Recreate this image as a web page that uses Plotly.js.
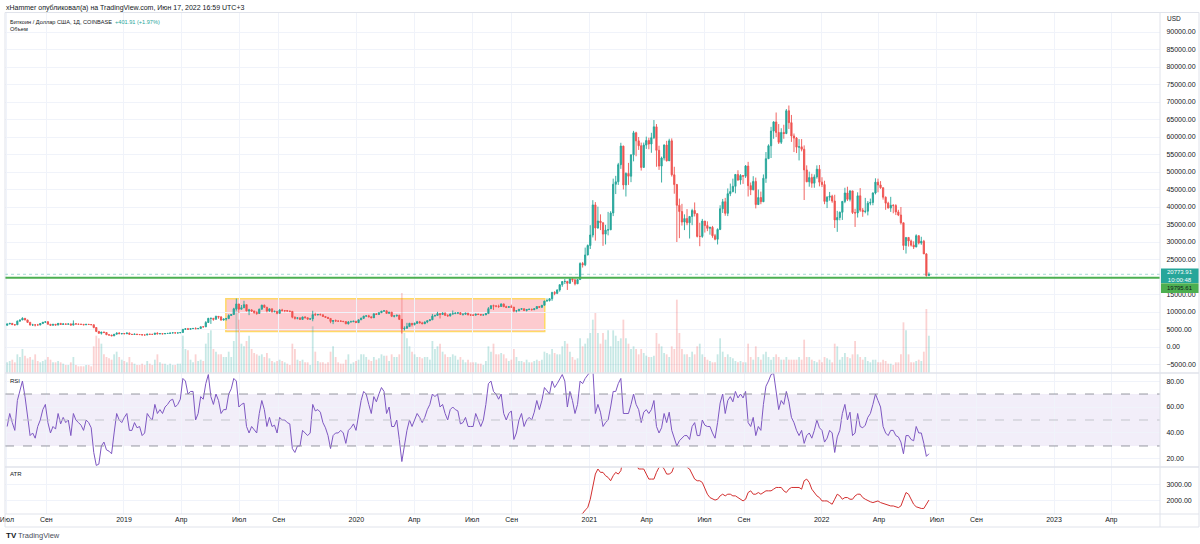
<!DOCTYPE html>
<html><head><meta charset="utf-8">
<script src="https://cdn.plot.ly/plotly-3.0.1.min.js"></script>
<style>html,body{margin:0;padding:0;background:#fff;}#chart{width:1200px;height:544px;}</style>
</head><body><div id="chart"></div>
<script>
// ---------- DATA (4-day bars, last bar = 2022-06-17) ----------
const lastBarDate = '2022-06-17';
const barDays = 4;
const firstOpen = 6200;
const closes = [
 6600,6750,6380,6350,7380,7720,8200,7730, 7030,6280,6320,6310,6270,6700,7080,7190,
 6500,6200,6480,6260,6750,6430,6600,6500, 6600,6250,6650,6540,6500,6470,6330,
 6480,6420,6360,5570,4450,3900,4260,4140, 3500,3420,3190,3650,3970,3800,3860,3780,
 4000,3630,3580,3700,3560,3550,3440, 3420,3670,3620,3600,3960,3740,3820,
 3730,3860,3880,4000,4060,4000,4030,4130, 5050,5200,5070,5240,5300,5200,5280,5780,
 5760,7000,8200,8200,7900,8750,8550, 7700,7980,8150,8990,9280,10900,12300,10800,
 11200,12100,10300,10600,10300,9880,9580,10800, 11950,11350,10300,10900,10100,10170,9600,
 10580,10400,10400,10270,10180,8530,8200,8330, 7880,8580,8350,7950,8030,9250,9150,9300,
 9200,8720,8470,8160,7300,7550,7420, 7400,7350,7250,6620,7150,7200,7380,6960,
 7770,8180,8830,8900,8630,8350,9500,9290, 9800,10250,10350,9600,9950,8780,8900,
 9080,7900,5180,5330,5830,6760,6420,6740, 7200,6880,6640,7130,7500,7780,8830,
 9020,9540,9310,9670,9050,8900,9420,9520, 9670,9780,9330,9380,9680,9170,9140,
 9090,9420,9300,9130,9170,9550,10950,11800, 11700,11680,11570,12300,11520,11330,11520,11400,
 10280,10350,10800,10930,10420,10720,10780, 10670,10930,11550,11330,11920,13120,13280,13800,
 15600,15330,16300,17800,18700,18730,18200,19450, 19200,18050,19270,23850,23480,26300,29000,
 32000,40600,34000,36000,35500,32250,33400,33500, 38300,46500,47200,52100,57400,46300,49600,
 48800,54900,61200,58900,57500,51300,57700,59000, 58000,59800,62900,56200,51700,54000,57700,
 53200,58900,49200,46400,40500,38700,35700,36700, 35500,37300,39000,38100,31600,31600,36000,34700,
 33900,34200,31800,30800,33600,39500,41500, 38200,43800,44400,45900,49300,47700,49000,48800,
 51700,46100,44900,47300,40700,42700,41500,48200, 53800,57500,61700,64300,61300,58500,61300,
 61000,67500,64100,60300,59700,57100,57200,56500, 50600,47200,48400,46800,48600,50800,47100,46400,
 41600,42800,43100,41700,36300,37000,38500, 41600,44000,42200,44600,38400,38300,43200,
 39100,38700,38800,41100,41300,44000,47100,46300, 45500,42800,41100,39700,40500,40400,38600,37700,
 35500,29000,31300,30300,29100,28600,31800, 29700,30200,26600,20400,20773.91
];
const highs = [
 6680,6780,6800,6400,7550,7750,8500,8280, 7760,7170,6620,6500,6600,6750,7100,7300,
 7400,6500,6520,6590,6800,6800,6780,6650, 6650,6700,7600,6700,6600,6530,6500,
 6500,6580,6450,6400,5650,4600,4300,4400, 4100,3550,3460,3680,4150,4250,3900,3950,
 4100,4100,3700,3760,3700,3620,3550, 3500,3730,3690,3650,4000,4200,3880,
 3880,3920,3950,4050,4070,4080,4060,4150, 5100,5350,5450,5280,5350,5620,5450,5800,
 5900,7400,8300,8300,8200,8950,8800, 8850,8100,8200,9350,9300,11200,13850,12300,
 12000,13200,12100,10900,10800,10250,10200,10950, 12050,12100,11450,10950,10950,10400,10280,
 10800,10900,10500,10450,10300,10100,8700,8350, 8400,8650,8800,8380,8300,10350,9800,9400,
 9550,9120,8850,8550,8200,7650,7870, 7500,7650,7380,7300,7400,7520,7450,7400,
 7800,8450,8880,8950,9200,8650,9550,9600, 9850,10300,10500,10200,9960,9980,8950,
 9180,9200,7970,5930,6900,6900,6850,7000, 7450,7450,7200,7300,7550,7800,9450,
 9200,10050,9570,9900,9880,9320,9600,10430, 9880,9800,9950,9580,9700,9700,9220,
 9300,9430,9450,9340,9250,9650,11400,11850, 12100,11900,12100,12450,12380,11800,11600,12080,
 11450,10500,10850,11100,11000,10800,10950, 10950,10950,11700,11720,12000,13220,13850,13900,
 15750,15950,16450,17850,18800,19450,18900,19900, 19650,19300,19400,24200,24300,28400,29300,
 34800,41950,41400,40100,37900,35600,34900,38600, 38800,48100,48900,52600,58350,57500,49900,
 52600,55000,61750,61500,60000,58400,58400,60100, 59800,61200,64850,63700,57500,54400,57900,
 58900,59500,59600,51500,46600,42400,40900,37900, 39400,37300,39500,41300,38200,35500,36600,36000,
 35900,34300,34600,32300,33900,40500,42300, 42600,45300,46700,48100,49400,50500,49400,49000,
 52000,52900,47000,48800,48400,45000,44400,49300, 55700,57900,62900,64500,67000,63700,62500,
 63500,68000,69000,66300,61000,60000,59400,59400, 57600,51900,50100,49500,49300,51900,52000,48500,
 47500,43100,44300,43500,43500,38900,38700, 41700,45500,45800,44800,44200,39500,44200,
 45400,39700,42600,41700,42400,44200,48200,48100, 47400,45600,43000,41500,42900,40800,40800,39200,
 40000,35500,31300,31400,30700,30200,32200, 31900,31500,30600,26800,21300
];
const lows = [
 6200,6500,6300,6070,6350,7260,7700,7650, 6980,6150,6030,5880,6270,6260,6650,6900,
 6450,6120,6150,6230,6240,6380,6420,6450, 6480,6150,6200,6500,6450,6430,6270,
 6300,6360,6300,5350,4250,3850,3550,3950, 3480,3270,3180,3120,3650,3720,3550,3690,
 3750,3580,3500,3580,3480,3520,3380, 3400,3400,3590,3560,3600,3700,3750,
 3700,3720,3840,3850,3980,3950,3900,4020, 4130,4950,4950,5030,5200,5150,5150,5260,
 5580,5950,6900,6600,7500,7900,8050, 7500,7550,7530,7950,8930,9300,10400,9700,
 10800,11300,10200,9100,10000,9500,9200,9600, 10700,11200,9900,10050,9800,9900,9350,
 9600,10200,9950,10150,9950,8200,7850,7900, 7800,7800,8220,7900,7900,7350,9050,9050,
 9100,8700,8400,8100,6800,6530,7250, 7150,7300,7150,6560,6450,7150,7150,6900,
 6950,7700,8050,8580,8500,8250,8600,9250, 9150,9700,10050,9450,9550,8550,8450,
 8650,7700,3850,4700,5700,5850,5870,6150, 6700,6780,6600,6600,6800,7450,7700,
 8700,9000,8150,9150,8850,8640,8700,9280, 9500,9400,9150,8950,9220,9050,8850,
 8950,9080,9130,9000,9050,9150,9550,10850, 10600,11350,11150,11650,11400,11120,11150,11200,
 9900,9900,10200,10650,10350,10150,10650, 10400,10530,10900,11200,11250,11900,12950,13000,
 13200,14800,15100,15800,17200,18000,16300,18100, 18550,17600,18000,19250,22700,23100,26200,
 28000,31300,30400,33800,33400,28900,29300,31900, 33400,37400,43700,46300,50900,45000,43000,
 46300,47100,53050,54500,56300,50400,51300,56600, 56500,55500,59400,51500,50600,47000,53300,
 53000,53400,48700,43800,30000,31100,34700,33400, 34800,31000,34800,37300,31300,28800,31200,32700,
 33100,32100,31200,30500,29300,33400,38300, 37500,37400,43100,44200,43900,47500,46400,46600,
 48300,43000,43400,44800,39600,40600,40800,43200, 46900,53700,54000,59500,60000,58000,58000,
 59500,60800,62300,58600,55700,55400,53300,55900, 42000,47100,45800,45500,45500,48100,45900,45700,
 40800,39700,41800,41200,34000,32900,36200, 36300,41100,41700,41600,38000,34300,37000,
 38600,37200,38200,37600,40500,40500,43600,44200, 45200,42100,39200,39600,38600,38200,37700,37400,
 35000,27700,26700,28700,28700,28000,28500, 29300,29200,26600,20100,20300
];
const volumes = [
 8,9,10,8,14,12,18,13, 11,12,10,14,9,8,9,10, 12,10,8,8,9,8,7,6, 6,8,12,6,5,5,5,
 6,6,5,20,28,26,22,14, 12,11,10,14,16,12,10,9,
 8,12,8,7,6,6,7, 6,9,7,6,10,14,8, 7,7,6,7,6,6,7,7, 28,18,17,10,8,14,9,10,
 9,22,30,32,18,16,14, 14,12,12,16,12,24,50,40, 22,20,24,28,18,15,14,13, 14,12,15,11,9,8,9,
 10,9,8,7,6,22,18,10, 9,10,8,8,6,35,16,9, 8,8,7,8,16,20,12, 8,7,7,10,14,7,8,9,
 10,14,14,12,10,9,12,10, 11,14,13,13,9,14,12, 12,14,60,30,26,20,16,14, 12,12,11,12,12,10,24,
 18,20,22,16,14,12,12,14, 13,10,12,10,8,10,8, 8,8,7,7,6,9,20,16, 22,14,14,15,14,11,9,10,
 18,12,9,9,8,10,8, 8,9,10,9,10,16,15,14, 18,15,14,14,20,24,22,16, 12,10,11,26,20,22,26,
 30,40,45,30,22,30,25,32, 20,32,28,24,26,40,26, 22,18,20,18,14,18,15,13, 12,12,13,30,22,20,15,
 14,12,20,18,55,30,18,14, 14,12,16,14,20,22,14,12, 10,9,8,8,14,26,16, 12,14,12,11,9,8,9,8,
 8,22,12,10,20,12,10,14, 16,12,10,12,14,12,10, 10,12,10,10,10,10,12,10, 25,12,12,10,9,8,10,8,
 12,11,10,8,22,20,10, 12,15,12,11,14,24,14, 12,10,12,9,8,10,10,8, 8,10,9,7,7,6,8,8,
 14,38,32,14,8,8,9, 10,9,16,48,28
];
const rsiValues = [
 45,55,48,42,65,72,80,68, 52,38,40,36,45,50,58,62, 48,40,45,43,55,47,52,48, 50,38,55,50,48,46,42,
 50,48,44,25,15,16,30,33, 27,26,24,40,55,50,48,52,
 55,42,42,48,44,45,38, 40,55,52,50,62,55,58, 55,60,62,65,66,60,62,66, 82,80,70,72,72,50,55,68,
 66,78,85,68,62,70,65, 55,58,58,70,74,82,80,60, 62,63,45,40,45,42,40,55, 65,58,45,52,45,46,40,
 52,50,50,48,47,28,25,30, 30,42,40,38,40,62,57,58, 56,48,44,38,28,38,40, 40,42,40,32,42,44,47,42,
 55,65,72,70,62,55,68,64, 70,75,72,55,60,45,45, 50,35,18,30,42,50,45,50, 55,52,48,52,58,62,70,
 68,70,60,62,55,50,58,60, 58,57,47,48,52,45,45, 45,55,50,45,50,62,78,80, 72,70,66,70,55,50,55,57,
 35,40,50,55,45,50,52, 50,56,65,58,65,75,72,70, 80,75,78,82,85,80,60,72, 65,55,62,80,78,82,85,
 88,90,55,62,56,45,48,50, 60,72,72,78,82,55,55, 55,62,70,62,58,48,56,58, 55,58,65,45,40,44,55,
 48,56,42,36,30,34,36,38, 38,35,45,48,38,38,50,46, 45,45,40,36,48,63,70, 55,65,68,64,72,67,70,67,
 72,48,45,52,38,45,42,62, 76,80,85,86,70,58,65, 62,72,64,52,48,42,38,42, 32,38,40,36,42,50,44,42,
 33,36,42,40,25,37,42, 55,62,50,56,38,40,55, 45,44,46,52,55,62,70,65, 60,45,40,38,42,42,38,37,
 33,24,38,38,35,34,45, 40,40,32,22,24
];
const atrValues = [
 900,1000,1000,980,950,1150,1250,1450,1600,
 2100,2800,3600,3900,3700,3700,3500,3400, 3200,3500,3700,3600,3800,4600,4700,
 4500,4300,4200,4200,3900,3900,3900,3600, 3300,3300,3300,3700,4000,4100,3900,
 3600,3600,3700,4100,5200,5400,5200,4600, 4000,3900,3600,3300,3200,3200,3100,2700,
 2400,2200,2100,2050,2100,2300,2400, 2300,2400,2400,2300,2300,2200,2100,2000,
 2100,2500,2600,2400,2400,2500,2400,2500, 2600,2600,2600,2700,2800,2800,2800,
 2600,2500,2700,2800,2800,2800,2800,2700, 3200,3300,3100,2700,2500,2300,2200,2000,
 2000,2000,1900,1800,2100,2400,2300, 2100,2200,2200,2100,2100,2300,2400,
 2400,2200,2100,2000,1950,1900,1950,2000, 1900,1850,1800,1750,1700,1700,1650,1600,
 1700,2100,2500,2400,2100,1800,1650, 1600,1550,1550,1800,2050
];
const lastPrice = 20773.91;
const levelPrice = 19795.61;
const countdown = '10:00:48';
const rangeBox = {start: '2019-06-10', end: '2020-10-23', top: 13800, bottom: 4400};
const priceTickValues = [-5000,0,5000,10000,15000,25000,30000,35000,40000,45000,50000,55000,
 60000,65000,70000,75000,80000,85000,90000];
const tickDates = ['2018-07-01','2018-09-01','2019-01-01','2019-04-01','2019-07-01','2019-09-01',
 '2020-01-01','2020-04-01','2020-07-01','2020-09-01','2021-01-01','2021-04-01','2021-07-01','2021-09-01',
 '2022-01-01','2022-04-01','2022-07-01','2022-09-01','2023-01-01','2023-04-01'];
const tickLabels = ['Июл','Сен','2019','Апр','Июл','Сен','2020','Апр','Июл','Сен','2021','Апр','Июл','Сен',
 '2022','Апр','Июл','Сен','2023','Апр'];

// ---------- helpers ----------
function shiftDate(base, days) {
  const t = Date.parse(base + 'T00:00:00Z') + days * 86400000;
  return new Date(t).toISOString().slice(0, 19).replace('T', ' ');
}
function barX(n) { // bar centres, aligned on the last bar
  const out = [];
  for (let i = 0; i < n; i++) out.push(shiftDate(lastBarDate, -barDays * (n - 1 - i) + 1.5));
  return out;
}
const px2x = px => (px - 5) / 1155;
const py2y = py => (514 - py) / 501;

const nB = closes.length;
const xs = barX(nB);
const opens = closes.map((c, i) => i === 0 ? firstOpen : closes[i - 1]);
const volX = barX(volumes.length);
const volColors = volumes.map((v, k) => {
  const i = nB - volumes.length + k;
  return closes[i] >= opens[i] ? 'rgba(38,166,154,0.26)' : 'rgba(239,83,80,0.26)';
});

const UP = '#26a69a', DN = '#ef5350';
const traces = [
  {type: 'bar', x: volX, y: volumes, marker: {color: volColors, line: {width: 0}},
   xaxis: 'x', yaxis: 'y4', hoverinfo: 'skip', showlegend: false},
  {type: 'candlestick', x: xs, open: opens, high: highs, low: lows, close: closes,
   increasing: {line: {color: UP, width: 0.9}, fillcolor: UP},
   decreasing: {line: {color: DN, width: 0.9}, fillcolor: DN},
   whiskerwidth: 0, xaxis: 'x', yaxis: 'y', hoverinfo: 'skip', showlegend: false},
  {type: 'scatter', mode: 'lines', x: barX(rsiValues.length), y: rsiValues,
   line: {color: '#7e57c2', width: 1}, xaxis: 'x2', yaxis: 'y2', hoverinfo: 'skip', showlegend: false},
  {type: 'scatter', mode: 'lines', x: barX(atrValues.length), y: atrValues,
   line: {color: '#d32f2f', width: 1}, xaxis: 'x3', yaxis: 'y3', hoverinfo: 'skip', showlegend: false}
];

const GRID = '#f0f3fa';
const TXT = '#131722';
const FONT = 'Liberation Sans, Arial, sans-serif';
const xRange = ['2018-06-28 02:00', '2023-06-16 12:00'];

const xBase = {type: 'date', range: xRange, tickvals: tickDates, ticktext: tickLabels,
  showgrid: true, gridcolor: GRID, gridwidth: 1, zeroline: false, showline: false, ticks: '',
  ticklabeloverflow: 'allow', tickfont: {size: 7, color: TXT}, fixedrange: true};
const yBase = {side: 'right', showgrid: true, gridcolor: GRID, zeroline: false, showline: false,
  ticks: 'outside', ticklen: 4, tickcolor: 'rgba(0,0,0,0)', tickformat: '.2f',
  tickfont: {size: 7, color: TXT}, fixedrange: true};

const shapes = [
  // RSI band & levels
  {type: 'rect', xref: 'paper', yref: 'y2', x0: 0, x1: 1, y0: 30, y1: 70,
   fillcolor: 'rgba(126,87,194,0.10)', line: {width: 0}, layer: 'below'},
  {type: 'line', xref: 'paper', yref: 'y2', x0: 0, x1: 1, y0: 70, y1: 70, line: {color: '#9598a1', width: 1, dash: 'dash'}},
  {type: 'line', xref: 'paper', yref: 'y2', x0: 0, x1: 1, y0: 50, y1: 50, line: {color: '#c3c5cc', width: 1, dash: 'dash'}},
  {type: 'line', xref: 'paper', yref: 'y2', x0: 0, x1: 1, y0: 30, y1: 30, line: {color: '#9598a1', width: 1, dash: 'dash'}},
  // range rectangle
  {type: 'rect', xref: 'x', yref: 'y', x0: rangeBox.start, x1: rangeBox.end, y0: rangeBox.bottom, y1: rangeBox.top,
   fillcolor: 'rgba(247,82,95,0.30)', line: {color: '#ffd966', width: 1.5}, layer: 'below'},
  // last price dotted line and horizontal level
  {type: 'line', xref: 'paper', yref: 'y', x0: 0, x1: 1, y0: lastPrice, y1: lastPrice,
   line: {color: 'rgba(38,166,154,0.40)', width: 1, dash: 'dot'}},
  {type: 'line', xref: 'paper', yref: 'y', x0: 0, x1: 1, y0: levelPrice, y1: levelPrice,
   line: {color: '#4caf50', width: 2}},
  // price label boxes on the scale
  {type: 'rect', xref: 'paper', yref: 'paper', x0: px2x(1161), x1: px2x(1199), y0: py2y(283), y1: py2y(268.5),
   fillcolor: UP, line: {width: 0}},
  {type: 'rect', xref: 'paper', yref: 'paper', x0: px2x(1161), x1: px2x(1199), y0: py2y(293), y1: py2y(283.3),
   fillcolor: '#4caf50', line: {width: 0}},
  // frame and pane separators
  {type: 'rect', xref: 'paper', yref: 'paper', x0: px2x(5), x1: px2x(1199), y0: py2y(527), y1: py2y(12.5),
   line: {color: '#e0e3eb', width: 1}, fillcolor: 'rgba(0,0,0,0)'},
  {type: 'line', xref: 'paper', yref: 'paper', x0: px2x(1160), x1: px2x(1160), y0: py2y(527), y1: py2y(12.5), line: {color: '#e0e3eb', width: 1}},
  {type: 'line', xref: 'paper', yref: 'paper', x0: px2x(5), x1: px2x(1199), y0: py2y(373), y1: py2y(373), line: {color: '#e0e3eb', width: 1.5}},
  {type: 'line', xref: 'paper', yref: 'paper', x0: px2x(5), x1: px2x(1199), y0: py2y(467), y1: py2y(467), line: {color: '#e0e3eb', width: 1.5}},
  {type: 'line', xref: 'paper', yref: 'paper', x0: px2x(5), x1: px2x(1199), y0: py2y(514), y1: py2y(514), line: {color: '#e0e3eb', width: 1}}
];

const ann = (text, px, py, opts = {}) => Object.assign({
  text, xref: 'paper', yref: 'paper', x: px2x(px), y: py2y(py), xanchor: 'left', yanchor: 'middle',
  showarrow: false, font: {size: 5.6, color: TXT, family: FONT}}, opts);

const annotations = [
  ann('xHammer опубликовал(а) на TradingView.com, Июн 17, 2022 16:59 UTC+3', 4, 7.5,
      {font: {size: 7, color: TXT, family: FONT}}),
  ann('Биткоин / Доллар США, 1Д, COINBASE  <span style="color:#26a69a">+401.91 (+1.97%)</span>', 8, 21.5),
  ann('Объем', 8, 29.5),
  ann('RSI', 8, 381, {font: {size: 6, color: TXT, family: FONT}}),
  ann('ATR', 8, 474, {font: {size: 6, color: TXT, family: FONT}}),
  ann('USD', 1165, 19, {font: {size: 6.5, color: TXT, family: FONT}}),
  ann(lastPrice.toFixed(2) + '<br>' + countdown, 1180, 275.8,
      {xanchor: 'center', font: {size: 6, color: '#ffffff', family: FONT}}),
  ann(levelPrice.toFixed(2), 1180, 287.9, {xanchor: 'center', font: {size: 6, color: TXT, family: FONT}}),
  ann('<b>TV</b>', 4, 535, {font: {size: 8, color: TXT, family: FONT}}),
  ann('TradingView', 16, 535, {font: {size: 7.5, color: '#4a4e59', family: FONT}})
];

const layout = {
  width: 1200, height: 544, margin: {l: 5, r: 40, t: 13, b: 30},
  paper_bgcolor: '#ffffff', plot_bgcolor: '#ffffff', showlegend: false, hovermode: false,
  font: {family: FONT, size: 7, color: TXT},
  dragmode: false, bargap: 0.3,
  xaxis: Object.assign({}, xBase, {anchor: 'y', showticklabels: false, rangeslider: {visible: false}}),
  xaxis2: Object.assign({}, xBase, {anchor: 'y2', matches: 'x', showticklabels: false}),
  xaxis3: Object.assign({}, xBase, {anchor: 'y3', matches: 'x', showticklabels: true}),
  yaxis: Object.assign({}, yBase, {domain: [py2y(373), 1], range: [-7430, 95430], tickvals: priceTickValues}),
  yaxis2: Object.assign({}, yBase, {domain: [py2y(467), py2y(373)], range: [13.8, 86.2], tickvals: [20, 40, 60, 80]}),
  yaxis3: Object.assign({}, yBase, {domain: [0, py2y(467)], range: [1220, 4020], tickvals: [2000, 3000]}),
  yaxis4: {overlaying: 'y', range: [0, 270], visible: false, fixedrange: true},
  shapes, annotations
};

Plotly.newPlot('chart', traces, layout, {displayModeBar: false, staticPlot: true});
</script></body></html>
